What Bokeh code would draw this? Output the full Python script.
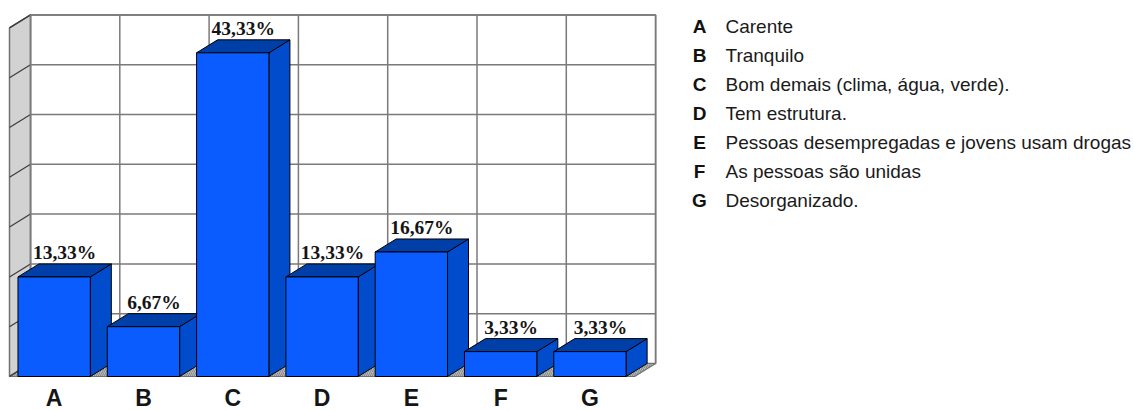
from bokeh.plotting import figure
from bokeh.models import Range1d, ColumnDataSource
from bokeh.core.properties import value
from bokeh.embed import file_html
from bokeh.resources import INLINE

# ---- data -------------------------------------------------------------
categories = ["A", "B", "C", "D", "E", "F", "G"]
percentages = [13.33, 6.67, 43.33, 13.33, 16.67, 3.33, 3.33]
value_labels = ["13,33%", "6,67%", "43,33%", "13,33%", "16,67%", "3,33%", "3,33%"]
descriptions = [
    "Carente",
    "Tranquilo",
    "Bom demais (clima, água, verde).",
    "Tem estrutura.",
    "Pessoas desempregadas e jovens usam drogas",
    "As pessoas são unidas",
    "Desorganizado.",
]
grid_step = 6.667
grid_count = 7  # number of intervals on the value axis

# ---- layout (pixels) --------------------------------------------------
W, H = 1133, 410
X0, Y0 = 9.0, 376.0        # screen position of the front-plane origin
PX = 89.3                  # pixels per category slot
PY = 7.47                  # pixels per percentage point
DEPTH_X, DEPTH_Y = 21.0, 13.0
BAR_FILL = 0.81            # share of a slot used by a bar

DX = DEPTH_X / PX
DY = DEPTH_Y / PY
gap = (1 - BAR_FILL) / 2
ymax = grid_step * grid_count
n = len(categories)


def to_x(px):
    return (px - X0) / PX


def to_y(py):
    return (Y0 - py) / PY


p = figure(
    width=W, height=H,
    x_range=Range1d(to_x(0), to_x(W)),
    y_range=Range1d(to_y(H), to_y(0)),
    output_backend="svg", toolbar_location=None,
    x_axis_type=None, y_axis_type=None,
    min_border=0, min_border_left=0, min_border_right=0,
    min_border_top=0, min_border_bottom=0,
)
p.outline_line_color = None
p.grid.visible = False
p.background_fill_color = "white"
p.border_fill_color = "white"

WALL_LINE = "#707070"
GRID_LINE = "#7a7a7a"

# back wall
p.patch([DX, n + DX, n + DX, DX], [DY, DY, ymax + DY, ymax + DY],
        fill_color="white", line_color=WALL_LINE, line_width=1.5)
# left wall
p.patch([0, 0, DX, DX], [0, ymax, ymax + DY, DY],
        fill_color="#d2d2d2", line_color=WALL_LINE, line_width=1.5)
# floor
p.patch([0, n, n + DX, DX], [0, 0, DY, DY],
        fill_color="#b8b8b8", line_color=WALL_LINE, line_width=1.2,
        hatch_pattern="/", hatch_color="#7c7c7c", hatch_scale=4, hatch_weight=0.8)

# gridlines: back wall horizontals, left wall diagonals, back wall verticals
levels = [grid_step * k for k in range(1, grid_count + 1)]
p.multi_line(
    xs=[[DX, n + DX] for _ in levels],
    ys=[[v + DY, v + DY] for v in levels],
    line_color=GRID_LINE, line_width=1.5,
)
p.multi_line(
    xs=[[0, DX] for _ in [0] + levels],
    ys=[[v, v + DY] for v in [0] + levels],
    line_color="#3c3c3c", line_width=1.2,
)
p.multi_line(
    xs=[[i + DX, i + DX] for i in range(n + 1)],
    ys=[[DY, ymax + DY] for _ in range(n + 1)],
    line_color=GRID_LINE, line_width=1.5,
)

# 3D bars: side, top and front faces, drawn left to right
FRONT, TOP, SIDE = "#0a5cff", "#003ea8", "#004ccc"
xs, ys, colors = [], [], []
for i, v in enumerate(percentages):
    l, r = i + gap, i + 1 - gap
    xs.append([r, r + DX, r + DX, r]); ys.append([0, DY, v + DY, v]); colors.append(SIDE)
    xs.append([l, r, r + DX, l + DX]); ys.append([v, v, v + DY, v + DY]); colors.append(TOP)
    xs.append([l, r, r, l]); ys.append([0, 0, v, v]); colors.append(FRONT)
p.patches(xs=xs, ys=ys, fill_color=colors, line_color="black", line_width=1)

# value labels above each bar
lab_src = ColumnDataSource(dict(
    x=[i + 0.5 + DX / 2 for i in range(n)],
    y=[v + DY + 11 / PY for v in percentages],
    t=value_labels,
))
p.text(x="x", y="y", text="t", source=lab_src,
       text_font=value("Liberation Serif"), text_font_style="bold",
       text_font_size="19.5px", text_color="#151515",
       text_align="center", text_baseline="alphabetic")

# category labels under the floor
cat_src = ColumnDataSource(dict(
    x=[i + 0.5 for i in range(n)],
    y=[to_y(397)] * n,
    t=categories,
))
p.text(x="x", y="y", text="t", source=cat_src,
       text_font=value("Liberation Sans"), text_font_style="bold",
       text_font_size="23px", text_color="#151515",
       text_align="center", text_baseline="middle")

# legend: letter + description
row_y = [to_y(26 + 29 * k) for k in range(n)]
key_src = ColumnDataSource(dict(x=[to_x(699)] * n, y=row_y, t=categories))
p.text(x="x", y="y", text="t", source=key_src,
       text_font=value("Liberation Sans"), text_font_style="bold",
       text_font_size="19px", text_color="#111111",
       text_align="center", text_baseline="middle")
desc_src = ColumnDataSource(dict(x=[to_x(725)] * n, y=row_y, t=descriptions))
p.text(x="x", y="y", text="t", source=desc_src,
       text_font=value("Liberation Sans"), text_font_size="19px",
       text_color="#1a1a1a", text_align="left", text_baseline="middle")

open("out.html", "w").write(file_html(p, INLINE))
